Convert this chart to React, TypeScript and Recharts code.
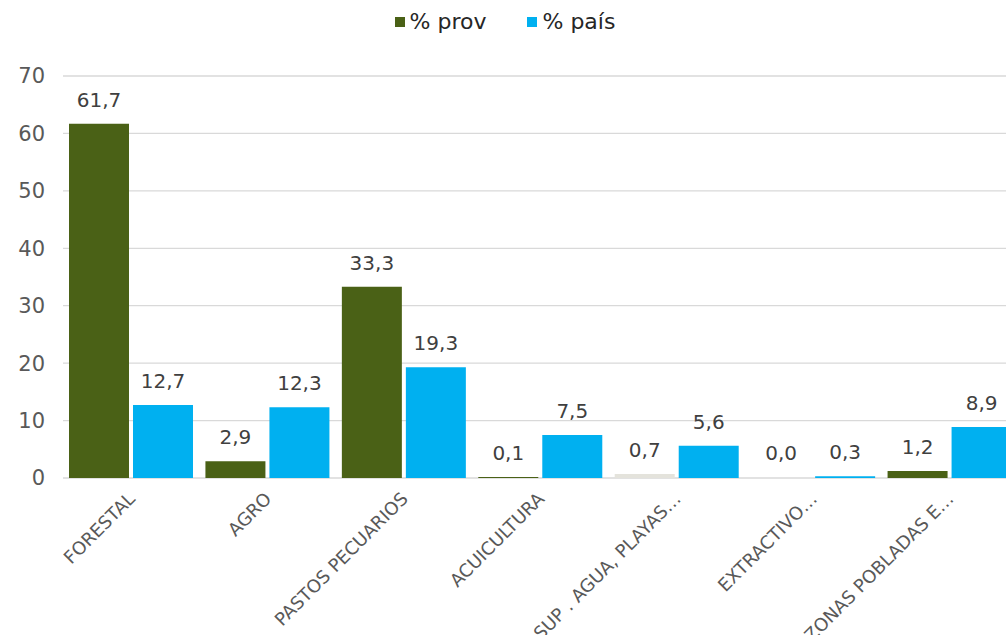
import React from 'react';
import { BarChart, Bar, XAxis, YAxis, Legend, CartesianGrid, LabelList, Cell } from 'recharts';

const categories = [
  'FORESTAL',
  'AGRO',
  'PASTOS PECUARIOS',
  'ACUICULTURA',
  'SUP . AGUA, PLAYAS…',
  'EXTRACTIVO…',
  'ZONAS POBLADAS E…',
];
const provValues = [61.7, 2.9, 33.3, 0.1, 0.7, 0.0, 1.2];
const paisValues = [12.7, 12.3, 19.3, 7.5, 5.6, 0.3, 8.9];
const yTicks = [0, 10, 20, 30, 40, 50, 60, 70];
const seriesNames = ['% prov', '% país'];

const GREEN = '#4A6116';
const BLUE = '#00B0F0';
const TEXT = '#595959';
const FONT = '"DejaVu Sans", Verdana, sans-serif';

// one bar in the prov series is drawn in a pale tone in the original
const provFillOverride: Record<number, string> = { 4: '#E4E3DC' };

const data = categories.map((name, i) => ({
  name,
  prov: provValues[i],
  pais: paisValues[i],
}));

const edgeTicks = categories.map((_, i) => i).concat(categories.length);

const fmt = (v: any) => Number(v).toFixed(1).replace('.', ',');

const CategoryTick = (props: any) => {
  const { x, y, payload } = props;
  return (
    <g transform={`translate(${x + 5},${y + 14})`}>
      <text
        textAnchor="end"
        transform="rotate(-45)"
        fontSize={18}
        fill={TEXT}
        fontFamily={FONT}
      >
        {payload.value}
      </text>
    </g>
  );
};

const LegendContent = () => (
  <div style={{ display: 'flex', justifyContent: 'center', gap: 41, fontFamily: FONT, fontSize: 22, color: '#262626', paddingRight: 8 }}>
    {seriesNames.map((n, i) => (
      <span key={n} style={{ display: 'inline-flex', alignItems: 'center' }}>
        <span style={{ width: 10, height: 10, background: i === 0 ? GREEN : BLUE, marginRight: 5, display: 'inline-block' }} />
        {n}
      </span>
    ))}
  </div>
);

export default function App() {
  return (
    <div style={{ position: 'fixed', left: 0, top: 0, width: 1006, height: 635, overflow: 'hidden', background: '#fff' }}>
      <BarChart
        width={1030}
        height={635}
        data={data}
        margin={{ top: 9, right: 12, bottom: 0, left: 0 }}
        barCategoryGap={6}
        barGap={4}
      >
        <CartesianGrid vertical={false} stroke="#D9D9D9" strokeWidth={1.3} xAxisId="cat" />
        <Legend
          verticalAlign="top"
          align="center"
          content={<LegendContent />}
          wrapperStyle={{ paddingBottom: 41, lineHeight: '26px' }}
        />
        <XAxis
          xAxisId="edges"
          type="number"
          domain={[0, categories.length]}
          ticks={edgeTicks}
          allowDataOverflow
          tick={false}
          tickSize={8}
          height={0}
          axisLine={{ stroke: '#D9D9D9', strokeWidth: 1.5 }}
          tickLine={{ stroke: '#D9D9D9', strokeWidth: 1.5 }}
        />
        <XAxis
          xAxisId="cat"
          dataKey="name"
          interval={0}
          axisLine={false}
          tickLine={false}
          tick={<CategoryTick />}
          height={157}
        />
        <YAxis
          domain={[0, 70]}
          ticks={yTicks}
          axisLine={false}
          tickLine={false}
          tickSize={0}
          tickMargin={18}
          width={63}
          tick={{ fontSize: 21, fill: TEXT, fontFamily: FONT }}
        />
        <Bar dataKey="prov" name={seriesNames[0]} fill={GREEN} xAxisId="cat" minPointSize={1} isAnimationActive={false}>
          {provValues.map((v, i) => (
            <Cell key={i} fill={v === 0 ? 'none' : provFillOverride[i] ?? GREEN} />
          ))}
          <LabelList
            dataKey="prov"
            position="top"
            offset={17}
            formatter={fmt}
            style={{ fontSize: 20, fill: '#404040', fontFamily: FONT }}
          />
        </Bar>
        <Bar dataKey="pais" name={seriesNames[1]} fill={BLUE} xAxisId="cat" isAnimationActive={false}>
          <LabelList
            dataKey="pais"
            position="top"
            offset={17}
            formatter={fmt}
            style={{ fontSize: 20, fill: '#404040', fontFamily: FONT }}
          />
        </Bar>
      </BarChart>
    </div>
  );
}
